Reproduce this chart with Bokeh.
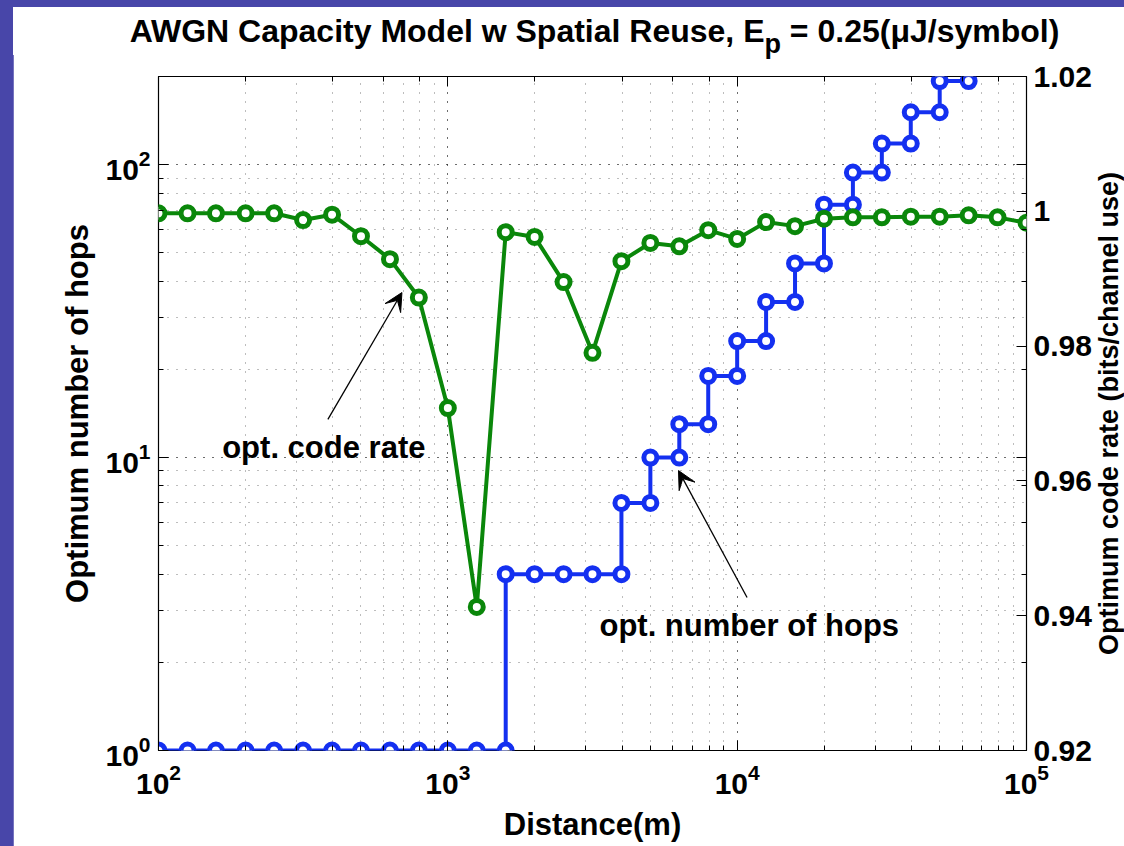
from bokeh.plotting import figure
from bokeh.models import (Range1d, LinearAxis, LogAxis, LinearScale, FixedTicker,
                          CustomJSTickFormatter, Label, Arrow, VeeHead, Div)
from bokeh.layouts import column, row
from bokeh.embed import file_html
from bokeh.resources import INLINE

# Distance grid in metres (ten points per decade)
distance_m = [100, 126, 158, 200, 251, 316, 398, 501, 631, 794,
              1000, 1259, 1585, 1995, 2512, 3162, 3981, 5012, 6310, 7943,
              10000, 12589, 15849, 19953, 25119, 31623, 39811, 50119, 63096, 79433,
              100000]

# Optimum code rate (bits/channel use) at each distance
code_rate = [0.9997, 0.9997, 0.9997, 0.9997, 0.9997, 0.9987, 0.9995, 0.9963, 0.9929, 0.9872,
             0.9708, 0.9413, 0.9969, 0.9962, 0.9895, 0.9790, 0.9926, 0.9953, 0.9948, 0.9972,
             0.9959, 0.9984, 0.9978, 0.9989, 0.9991, 0.9991, 0.9992, 0.9992, 0.9994, 0.9991,
             0.9983]

# Optimum number of hops from each distance onwards (up to 10^4.8 m)
opt_hops = [1, 1, 1, 1, 1, 1, 1, 1, 1, 1, 1, 1,
            4, 4, 4, 4, 7, 10, 13, 19, 25, 34, 46, 73, 94, 118, 151, 193, 193]

rate_ticks = [0.92, 0.94, 0.96, 0.98, 1.0, 1.02]

FONT = "Liberation Sans"
BLUE = "#1430f0"
GREEN = "#0a870a"
FRAME_BG = "#4846a9"

# staircase path: a vertical jump at every distance where the hop count changes
hops_x, hops_y = [], []
for i, n in enumerate(opt_hops):
    if i > 0 and n != opt_hops[i - 1]:
        hops_x.append(distance_m[i])
        hops_y.append(opt_hops[i - 1])
    hops_x.append(distance_m[i])
    hops_y.append(n)

p = figure(frame_width=870, frame_height=674,
           x_axis_type="log", y_axis_type="log",
           x_range=Range1d(100, 1e5), y_range=Range1d(1, 200),
           min_border_left=145, min_border_top=24,
           min_border_right=66, min_border_bottom=96,
           output_backend="svg", toolbar_location=None,
           background_fill_color="white", border_fill_color="white",
           outline_line_color="black", outline_line_width=1.2)
p.margin = (0, 0, 0, 13)
p.extra_y_ranges = {"rate": Range1d(0.92, 1.02)}
p.extra_y_scales = {"rate": LinearScale()}

blank = CustomJSTickFormatter(code="return ''")


def style_axis(ax, labels=True):
    ax.axis_line_color = None
    ax.major_tick_in = 10
    ax.major_tick_out = 0
    ax.minor_tick_in = 5
    ax.minor_tick_out = 0
    ax.major_tick_line_color = "black"
    ax.minor_tick_line_color = "black"
    ax.major_tick_line_width = 1
    ax.minor_tick_line_width = 1
    if labels:
        ax.major_label_text_font = FONT
        ax.major_label_text_font_style = "bold"
        ax.major_label_text_font_size = "30px"
        ax.major_label_text_color = "black"
        ax.axis_label_text_font = FONT
        ax.axis_label_text_font_style = "bold"
        ax.axis_label_text_font_size = "31px"
        ax.axis_label_text_color = "black"
    else:
        ax.formatter = blank
        ax.major_label_text_font_size = "1px"
        ax.major_label_standoff = 0


xax = p.xaxis[0]
yax = p.yaxis[0]
style_axis(xax)
style_axis(yax)
xax.axis_label = "Distance(m)"
xax.major_label_standoff = 13
xax.axis_label_standoff = 10
yax.axis_label = "Optimum number of hops"
yax.major_label_standoff = 8
yax.axis_label_standoff = 7

# mirrored ticks on the top and right edges of the box
top_ax = LogAxis()
style_axis(top_ax, labels=False)
p.add_layout(top_ax, "above")

right_log = LogAxis()
style_axis(right_log, labels=False)
p.add_layout(right_log, "right")

rate_ax = LinearAxis(y_range_name="rate",
                     ticker=FixedTicker(ticks=rate_ticks),
                     formatter=CustomJSTickFormatter(
                         code="return tick.toFixed(2).replace(/\\.?0+$/, '')"))
style_axis(rate_ax)
rate_ax.minor_tick_line_color = None
rate_ax.major_label_standoff = 7
p.add_layout(rate_ax, "right")

for g in (p.xgrid[0], p.ygrid[0]):
    g.grid_line_color = "#222222"
    g.grid_line_alpha = 0.6
    g.grid_line_dash = "1 8"
    g.grid_line_width = 1
    g.minor_grid_line_color = "#222222"
    g.minor_grid_line_alpha = 0.6
    g.minor_grid_line_dash = "1 8"
    g.minor_grid_line_width = 1

# hops staircase (left axis)
p.line(hops_x, hops_y, line_color=BLUE, line_width=4)
p.scatter(hops_x, hops_y, marker="circle", size=13, line_color=BLUE,
          line_width=5, fill_color="white")

# code rate (right axis)
p.line(distance_m, code_rate, y_range_name="rate", line_color=GREEN, line_width=4)
p.scatter(distance_m, code_rate, y_range_name="rate", marker="circle", size=13,
          line_color=GREEN, line_width=5, fill_color="white")

# annotations
label_style = dict(text_font=FONT, text_font_style="bold", text_font_size="31px",
                   text_color="black", text_baseline="middle", text_align="left")
p.add_layout(Label(x=166, y=10.8, text="opt. code rate", **label_style))
p.add_layout(Label(x=3342, y=2.67, text="opt. number of hops", **label_style))
p.add_layout(Arrow(end=VeeHead(size=18, fill_color="black", line_color="black", line_width=1),
                   x_start=385, y_start=13.5, x_end=694, y_end=36.6,
                   line_color="black", line_width=1.3))
p.add_layout(Arrow(end=VeeHead(size=18, fill_color="black", line_color="black", line_width=1),
                   x_start=10820, y_start=3.33, x_end=6270, y_end=9.03,
                   line_color="black", line_width=1.3))

# title with a subscripted p; sits above the plot canvas so the subscript can overhang
title_html = (
    '<div style="width:1111px; box-sizing:border-box; padding:6px 0 0 52px; '
    'text-align:center; font-family:\'Liberation Sans\', Arial, sans-serif; '
    'font-weight:bold; font-size:32px; line-height:36px; color:black; white-space:nowrap;">'
    'AWGN Capacity Model w Spatial Reuse, E'
    '<span style="font-size:27px; position:relative; top:11px;">p</span>'
    ' = 0.25(&mu;J/symbol)</div>'
)
title_div = Div(text=title_html, width=1111, height=45, margin=(7, 0, 0, 13),
                styles={"background-color": "white", "overflow": "visible",
                        "position": "relative", "z-index": "2",
                        "box-shadow": "0 3px 0 0 white"})

# right-hand axis title, reading bottom to top beside the rate tick labels
rate_title_html = (
    '<div style="margin-top:24px; height:674px; width:30px; writing-mode:vertical-rl; '
    'transform:rotate(180deg); text-align:center; line-height:30px; '
    'font-family:\'Liberation Sans\', Arial, sans-serif; font-weight:bold; '
    'font-size:27px; color:black; white-space:nowrap;">'
    'Optimum code rate (bits/channel use)</div>'
)
rate_title = Div(text=rate_title_html, width=30, height=839, margin=(0, 0, 0, 0),
                 styles={"background-color": "white"})

page = column(title_div, row(p, rate_title, spacing=0), width=1124, height=846, spacing=0,
              styles={"background-color": FRAME_BG, "overflow": "hidden"})

open("out.html", "w").write(file_html(page, INLINE))
